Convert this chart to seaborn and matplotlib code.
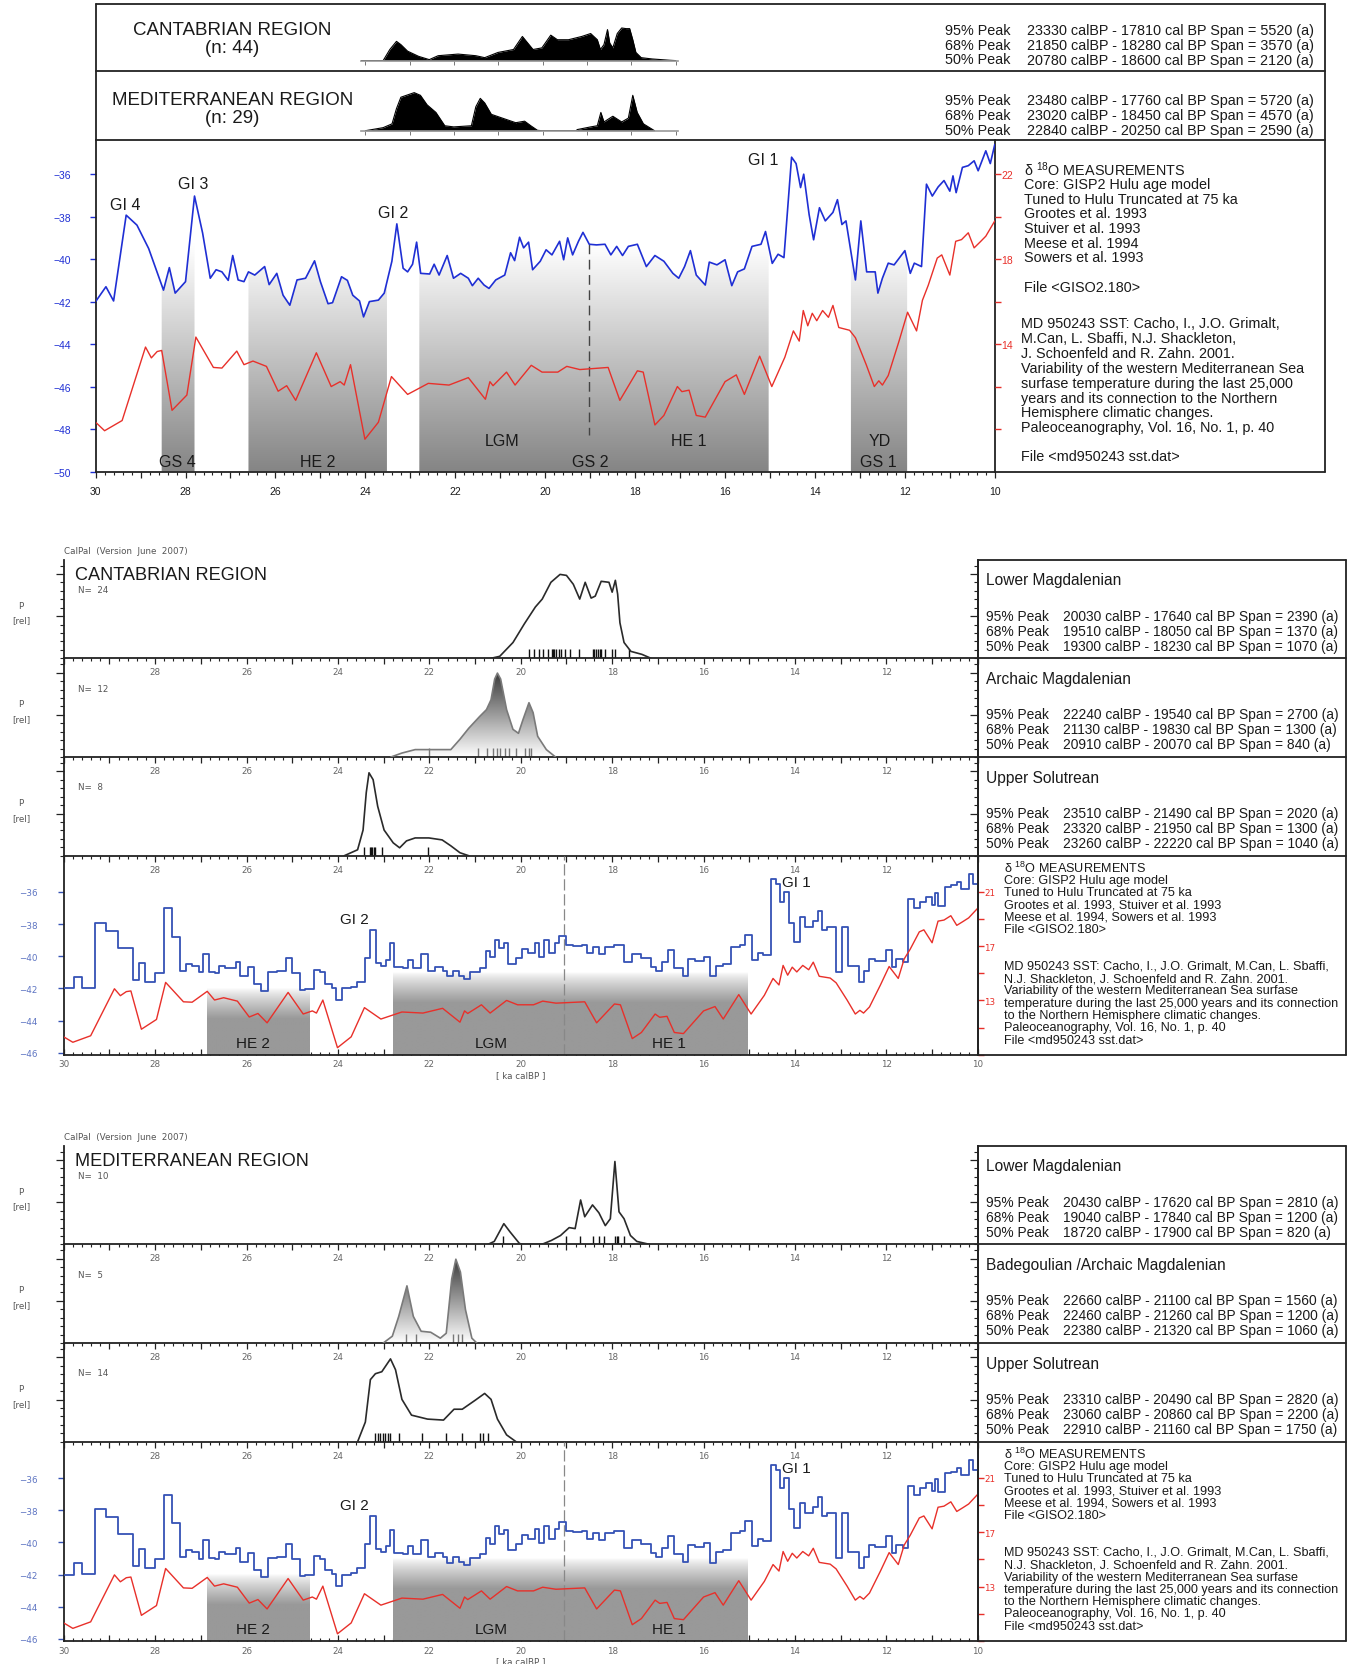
import numpy as np
import matplotlib
matplotlib.use("Agg")
import matplotlib.pyplot as plt
from matplotlib.lines import Line2D
from matplotlib.ticker import MultipleLocator, FixedLocator, FuncFormatter, NullFormatter
import seaborn as sns

sns.set_theme(style="white")
plt.rcParams["font.family"] = ["Liberation Sans", "DejaVu Sans"]
plt.rcParams["mathtext.fontset"] = "custom"
plt.rcParams["mathtext.rm"] = "Liberation Sans"

# ---------------- data ----------------
# GISP2 d18O, age in ka calBP
iso_age = [30.0, 29.77, 29.6, 29.32, 29.08, 28.82, 28.49, 28.36, 28.23, 28.0, 27.8, 27.62, 27.45, 27.32,
           27.19, 27.05, 26.95, 26.83, 26.7, 26.6, 26.46, 26.24, 26.14, 25.97, 25.83, 25.68, 25.52, 25.33,
           25.13, 25.0, 24.83, 24.73, 24.53, 24.4, 24.28, 24.13, 24.04, 23.91, 23.71, 23.58, 23.41, 23.3,
           23.16, 23.06, 22.95, 22.86, 22.77, 22.57, 22.47, 22.36, 22.18, 22.04, 21.88, 21.71, 21.62, 21.49,
           21.36, 21.25, 21.1, 20.9, 20.77, 20.68, 20.57, 20.48, 20.37, 20.28, 20.11, 19.98, 19.85, 19.68,
           19.59, 19.5, 19.39, 19.26, 19.16, 19.02, 18.86, 18.67, 18.54, 18.41, 18.28, 18.15, 17.95, 17.75,
           17.56, 17.36, 17.16, 17.03, 16.9, 16.77, 16.64, 16.44, 16.35, 16.18, 16.0, 15.85, 15.72, 15.57,
           15.4, 15.2, 15.1, 14.95, 14.82, 14.69, 14.52, 14.42, 14.32, 14.25, 14.13, 14.03, 13.9, 13.77,
           13.6, 13.5, 13.4, 13.31, 13.1, 12.98, 12.85, 12.66, 12.6, 12.5, 12.37, 12.24, 12.0, 11.88,
           11.79, 11.63, 11.52, 11.39, 11.26, 11.13, 11.0, 10.93, 10.86, 10.72, 10.59, 10.46, 10.37, 10.2,
           10.1, 10.0]
iso_d18o = [-42.0, -41.3, -41.97, -37.93, -38.4, -39.5, -41.46, -40.4, -41.6, -41.06, -37.03, -38.77, -40.9,
            -40.5, -40.6, -41.0, -39.83, -40.98, -41.06, -40.6, -40.75, -40.35, -41.2, -40.67, -41.7, -42.17,
            -40.98, -40.9, -40.08, -41.06, -42.1, -42.05, -40.83, -41.0, -41.7, -41.97, -42.72, -42.0, -41.93,
            -41.6, -40.1, -38.34, -40.43, -40.6, -40.24, -39.2, -40.67, -40.7, -40.24, -40.75, -39.83, -40.9,
            -40.67, -40.9, -41.25, -40.9, -41.22, -41.38, -40.98, -40.75, -39.7, -40.07, -38.97, -39.47,
            -39.2, -40.5, -40.1, -39.56, -39.8, -39.16, -40.03, -39.0, -39.8, -39.16, -38.74, -39.3, -39.33,
            -39.3, -39.8, -39.4, -39.83, -39.4, -39.3, -40.35, -39.83, -40.1, -40.67, -40.9, -40.35, -39.6,
            -40.75, -41.22, -40.14, -40.27, -40.03, -41.25, -40.6, -40.46, -39.4, -39.3, -38.7, -40.2,
            -39.77, -39.93, -35.2, -35.5, -36.63, -36.0, -37.9, -39.09, -37.58, -38.2, -37.8, -37.2,
            -38.37, -38.2, -40.98, -38.2, -40.6, -40.6, -41.6, -40.9, -40.19, -40.27, -39.6, -40.67,
            -40.19, -40.35, -36.47, -37.03, -36.6, -36.3, -36.8, -36.08, -36.87, -35.68, -35.6, -35.37,
            -35.84, -34.9, -35.5, -34.6]

# MD950243 SST (deg C)
sst_age = [30.0, 29.8, 29.41, 28.89, 28.76, 28.63, 28.53, 28.3, 27.97, 27.77, 27.38, 27.19, 26.86, 26.7,
           26.5, 26.2, 25.94, 25.75, 25.55, 25.09, 24.76, 24.56, 24.47, 24.33, 24.01, 23.71, 23.42, 23.06,
           22.6, 22.14, 21.71, 21.33, 21.23, 21.16, 20.86, 20.67, 20.31, 20.07, 19.72, 19.52, 19.23, 18.6,
           18.34, 17.95, 17.82, 17.56, 17.36, 17.06, 16.96, 16.8, 16.64, 16.44, 16.0, 15.75, 15.57, 15.23,
           14.96, 14.67, 14.48, 14.35, 14.26, 14.16, 14.06, 13.96, 13.83, 13.7, 13.6, 13.47, 13.23, 13.1,
           12.86, 12.68, 12.58, 12.5, 12.37, 12.13, 11.94, 11.74, 11.61, 11.48, 11.28, 11.18, 11.0, 10.87,
           10.74, 10.59, 10.46, 10.33, 10.2, 10.0]
sst_val = [10.32, 9.92, 10.4, 13.86, 13.35, 13.65, 13.7, 10.88, 11.6, 14.33, 12.9, 12.87, 13.67, 13.03,
           13.2, 12.95, 11.78, 12.04, 11.35, 13.59, 12.0, 12.23, 12.07, 13.03, 9.52, 10.32, 12.47, 11.63,
           12.15, 12.07, 12.42, 11.4, 12.23, 12.04, 12.68, 12.07, 13.0, 12.68, 12.68, 12.95, 12.8, 12.9,
           11.35, 12.74, 12.68, 10.19, 10.64, 12.0, 11.76, 11.83, 10.64, 10.56, 12.23, 12.55, 11.63, 13.43,
           12.0, 13.38, 14.62, 14.14, 15.58, 14.86, 15.45, 15.1, 15.58, 15.26, 15.82, 14.78, 14.65, 14.3,
           13.03, 12.0, 12.27, 12.07, 12.52, 14.14, 15.5, 14.62, 16.06, 16.77, 18.05, 18.2, 17.25, 18.84,
           18.92, 19.24, 18.53, 18.8, 19.08, 19.8]

# summed probability silhouettes (top block), x in tick units, relative height
cant_sum_x = [-0.1, 0.4, 0.55, 0.7, 0.8, 0.95, 1.2, 1.44, 1.64, 2.09, 2.49, 2.69, 2.99, 3.34, 3.44, 3.54,
              3.63, 3.78, 3.98, 4.18, 4.33, 4.58, 4.88, 5.08, 5.23, 5.3, 5.38, 5.46, 5.51, 5.58, 5.68, 5.78,
              5.88, 5.96, 6.03, 6.1, 6.22, 6.47, 6.87, 7.0]
cant_sum_h = [0, 0.0, 0.34, 0.59, 0.49, 0.29, 0.13, 0.03, 0.15, 0.2, 0.15, 0.09, 0.25, 0.34, 0.54, 0.74,
              0.59, 0.34, 0.39, 0.78, 0.64, 0.64, 0.74, 0.83, 0.64, 0.34, 0.49, 0.95, 0.54, 0.39, 0.83, 1.0,
              0.98, 0.98, 0.64, 0.25, 0.09, 0.05, 0.01, 0.0]
med_sum_x = [0.0, 0.4, 0.6, 0.7, 0.8, 1.1, 1.24, 1.39, 1.59, 1.79, 1.99, 2.39, 2.49, 2.59, 2.69, 2.84,
             3.09, 3.39, 3.59, 3.73, 3.88, 3.98, 4.75, 4.78, 5.08, 5.23, 5.31, 5.38, 5.58, 5.78, 5.93, 6.03,
             6.13, 6.27, 6.52]
med_sum_h = [0, 0.08, 0.18, 0.58, 0.88, 1.0, 0.93, 0.68, 0.48, 0.13, 0.1, 0.13, 0.63, 0.85, 0.73, 0.43,
             0.33, 0.21, 0.25, 0.13, 0.01, 0.0, 0.0, 0.03, 0.1, 0.13, 0.48, 0.23, 0.38, 0.23, 0.33, 0.93,
             0.48, 0.18, 0.0]

# CalPal probability curves (ka calBP, relative P) and dated samples
cant_lm_age = [20.65, 20.46, 20.17, 19.92, 19.68, 19.53, 19.34, 19.14, 19.0, 18.85, 18.71, 18.59, 18.46,
               18.37, 18.24, 18.07, 18.0, 17.93, 17.88, 17.83, 17.74, 17.59, 17.35, 17.15]
cant_lm_p = [0, 0.02, 0.16, 0.35, 0.52, 0.6, 0.77, 0.85, 0.84, 0.75, 0.6, 0.77, 0.61, 0.63, 0.78, 0.77,
             0.67, 0.79, 0.65, 0.36, 0.16, 0.07, 0.04, 0]
cant_lm_dates = [19.82, 19.71, 19.61, 19.51, 19.41, 19.31, 19.29, 19.27, 19.22, 19.17, 19.11, 19.03, 18.92,
                 18.73, 18.43, 18.39, 18.35, 18.3, 18.27, 18.25, 18.15, 18.01, 17.93, 17.64]
cant_am_age = [22.84, 22.6, 22.31, 22.01, 21.53, 21.33, 21.14, 20.9, 20.75, 20.65, 20.57, 20.51, 20.44,
               20.31, 20.17, 20.05, 19.95, 19.82, 19.73, 19.63, 19.44, 19.24]
cant_am_p = [0, 0.04, 0.075, 0.075, 0.075, 0.18, 0.29, 0.41, 0.48, 0.58, 0.79, 0.85, 0.79, 0.48, 0.28,
             0.24, 0.38, 0.55, 0.45, 0.21, 0.075, 0]
cant_am_dates = [22.0, 20.94, 20.73, 20.53, 20.34, 20.26, 19.82, 19.78, 20.6, 20.45, 20.1, 19.9]
cant_us_age = [23.86, 23.57, 23.45, 23.38, 23.32, 23.23, 23.13, 22.99, 22.79, 22.65, 22.5, 22.31, 22.01,
               21.72, 21.53, 21.33, 21.14]
cant_us_p = [0, 0.06, 0.26, 0.64, 0.84, 0.77, 0.5, 0.26, 0.13, 0.08, 0.15, 0.18, 0.18, 0.16, 0.1, 0.03, 0]
cant_us_dates = [23.42, 23.3, 23.27, 23.25, 23.22, 23.18, 23.04, 22.04]

med_lm_age = [20.72, 20.58, 20.37, 20.24, 20.03, 19.96, 19.54, 19.33, 19.13, 18.94, 18.81, 18.69, 18.6,
              18.43, 18.29, 18.15, 18.04, 17.94, 17.85, 17.74, 17.6, 17.46, 17.18]
med_lm_p = [0, 0.03, 0.21, 0.13, 0.01, 0, 0, 0.04, 0.09, 0.17, 0.16, 0.45, 0.28, 0.4, 0.32, 0.19, 0.26,
            0.84, 0.33, 0.26, 0.09, 0.03, 0]
med_lm_dates = [20.38, 19.01, 18.71, 18.43, 18.29, 18.18, 17.94, 17.9, 17.88, 17.74]
med_ba_age = [23.01, 22.81, 22.67, 22.49, 22.35, 22.18, 21.97, 21.76, 21.63, 21.51, 21.42, 21.32, 21.21,
              21.07, 20.96]
med_ba_p = [0, 0.07, 0.27, 0.58, 0.27, 0.12, 0.11, 0.05, 0.1, 0.65, 0.85, 0.72, 0.34, 0.05, 0]
med_ba_dates = [22.51, 22.29, 21.49, 21.38, 21.28]
med_us_age = [23.57, 23.4, 23.29, 23.18, 23.04, 22.85, 22.74, 22.6, 22.39, 22.04, 21.69, 21.46, 21.28,
              21.0, 20.79, 20.65, 20.51, 20.31, 20.1]
med_us_p = [0, 0.2, 0.63, 0.69, 0.71, 0.84, 0.73, 0.43, 0.27, 0.23, 0.22, 0.33, 0.33, 0.42, 0.49, 0.43,
            0.23, 0.07, 0]
med_us_dates = [23.18, 23.13, 23.08, 23.01, 22.96, 22.9, 22.85, 22.67, 22.15, 21.63, 21.28, 20.9, 20.83,
                20.72]

peak_levels = ["95% Peak", "68% Peak", "50% Peak"]
cant_sum_peaks = ["23330 calBP - 17810 cal BP Span = 5520 (a)", "21850 calBP - 18280 cal BP Span = 3570 (a)",
                  "20780 calBP - 18600 cal BP Span = 2120 (a)"]
med_sum_peaks = ["23480 calBP - 17760 cal BP Span = 5720 (a)", "23020 calBP - 18450 cal BP Span = 4570 (a)",
                 "22840 calBP - 20250 cal BP Span = 2590 (a)"]
cant_lm_peaks = ["20030 calBP - 17640 cal BP Span = 2390 (a)", "19510 calBP - 18050 cal BP Span = 1370 (a)",
                 "19300 calBP - 18230 cal BP Span = 1070 (a)"]
cant_am_peaks = ["22240 calBP - 19540 cal BP Span = 2700 (a)", "21130 calBP - 19830 cal BP Span = 1300 (a)",
                 "20910 calBP - 20070 cal BP Span = 840 (a)"]
cant_us_peaks = ["23510 calBP - 21490 cal BP Span = 2020 (a)", "23320 calBP - 21950 cal BP Span = 1300 (a)",
                 "23260 calBP - 22220 cal BP Span = 1040 (a)"]
med_lm_peaks = ["20430 calBP - 17620 cal BP Span = 2810 (a)", "19040 calBP - 17840 cal BP Span = 1200 (a)",
                "18720 calBP - 17900 cal BP Span = 820 (a)"]
med_ba_peaks = ["22660 calBP - 21100 cal BP Span = 1560 (a)", "22460 calBP - 21260 cal BP Span = 1200 (a)",
                "22380 calBP - 21320 cal BP Span = 1060 (a)"]
med_us_peaks = ["23310 calBP - 20490 cal BP Span = 2820 (a)", "23060 calBP - 20860 cal BP Span = 2200 (a)",
                "22910 calBP - 21160 cal BP Span = 1750 (a)"]

# climatic phases (ka)
top_phases = [(28.53, 27.8), (26.6, 23.52), (22.8, 15.03), (13.2, 11.95)]
mid_phases = [(26.86, 24.62, -42.0), (22.8, 15.04, -41.0)]

iso_text_top = ["δ $\\mathregular{^{18}}$O MEASUREMENTS", "Core: GISP2 Hulu age model",
                "Tuned to Hulu Truncated at 75 ka", "Grootes et al. 1993", "Stuiver et al. 1993",
                "Meese et al. 1994", "Sowers et al. 1993", "File <GISO2.180>"]
sst_text_top = ["MD 950243 SST: Cacho, I., J.O. Grimalt,", "M.Can, L. Sbaffi, N.J. Shackleton,",
                "J. Schoenfeld and R. Zahn. 2001.", "Variability of the western Mediterranean Sea",
                "surfase temperature during the last 25,000", "years and its connection to the Northern",
                "Hemisphere climatic changes.", "Paleoceanography, Vol. 16, No. 1, p. 40",
                "File <md950243 sst.dat>"]
iso_text_mid = ["δ $\\mathregular{^{18}}$O MEASUREMENTS", "Core: GISP2 Hulu age model",
                "Tuned to Hulu Truncated at 75 ka", "Grootes et al. 1993, Stuiver et al. 1993",
                "Meese et al. 1994, Sowers et al. 1993", "File <GISO2.180>", "", "",
                "MD 950243 SST: Cacho, I., J.O. Grimalt, M.Can, L. Sbaffi,",
                "N.J. Shackleton, J. Schoenfeld and R. Zahn. 2001.",
                "Variability of the western Mediterranean Sea surfase",
                "temperature during the last 25,000 years and its connection",
                "to the Northern Hemisphere climatic changes.",
                "Paleoceanography, Vol. 16, No. 1, p. 40", "File <md950243 sst.dat>"]

BLUE_TOP = "#1f2fd4"
BLUE_MID = "#3552b5"
RED = "#e8302a"
INK = "#1a1a1a"
SMALL = dict(family="DejaVu Sans", fontsize=6.3, color="#555555")

W, H = 1359, 1665
fig = plt.figure(figsize=(W / 100, H / 100), dpi=100)
fig.patch.set_facecolor("white")


def add_ax(x0, y0, x1, y1):
    ax = fig.add_axes([x0 / W, 1 - y1 / H, (x1 - x0) / W, (y1 - y0) / H])
    ax.set_facecolor("none")
    return ax


def line(x0, y0, x1, y1, lw=1.3, color="#222222"):
    fig.add_artist(Line2D([x0 / W, x1 / W], [1 - y0 / H, 1 - y1 / H], color=color, lw=lw))


def ftext(x, y, s, **kw):
    kw.setdefault("va", "center")
    kw.setdefault("color", INK)
    fig.text(x / W, 1 - y / H, s, **kw)


def even_label(v, pos, lo=10, hi=30):
    r = int(round(v))
    if abs(v - r) < 1e-6 and r % 2 == 0 and lo <= r <= hi:
        return str(r)
    return ""


def ka_xaxis(ax, direction, lo, hi, size, color, pad, major_len=4.5):
    ax.set_xlim(30, 10)
    ax.xaxis.set_major_locator(MultipleLocator(1))
    ax.xaxis.set_minor_locator(MultipleLocator(0.2))
    ax.xaxis.set_major_formatter(FuncFormatter(lambda v, p: even_label(v, p, lo, hi)))
    ax.tick_params(axis="x", which="major", bottom=True, direction=direction, length=major_len, width=0.9,
                   color="#222222", labelsize=size, labelcolor=color, pad=pad)
    ax.tick_params(axis="x", which="minor", bottom=True, direction=direction, length=major_len * 0.5,
                   width=0.8, color="#222222")


def gradient_image(ax, extent, top_col, bot_col, t_of_y, y_lo, y_hi, zorder=1):
    ys = np.linspace(y_hi, y_lo, 300)
    t = t_of_y(ys)[:, None, None]
    a = np.array(top_col)[None, None, :]
    b = np.array(bot_col)[None, None, :]
    img = a * (1 - t) + b * t
    return ax.imshow(img, extent=extent, origin="upper", aspect="auto", zorder=zorder, interpolation="bilinear")


# ======================= TOP BLOCK =======================
TX0, TX1, TXR = 95.6, 994.8, 1325.0
line(TX0, 5.3, TXR, 5.3)
line(TXR, 5.3, TXR, 472.5)
line(TX0, 72.2, TXR, 72.2)
line(TX0, 141.2, TXR, 141.2)
line(TX0, 5.3, TX0, 141.2)
line(TX1, 472.5, TXR, 472.5)

for (name, n, sx, sh, y0, y1, peaks, ty) in [
        ("CANTABRIAN REGION", "(n: 44)", cant_sum_x, cant_sum_h, 28.0, 61.6, cant_sum_peaks, 30.8),
        ("MEDITERRANEAN REGION", "(n: 29)", med_sum_x, med_sum_h, 92.5, 131.7, med_sum_peaks, 100.9)]:
    ftext(232.5, ty, name, ha="center", fontsize=13.5)
    ftext(232.5, ty + 18, n, ha="center", fontsize=13.5)
    sax = add_ax(361, y0, 678, y1)
    sax.fill_between(sx, sh, 0, color="black", lw=0)
    sns.lineplot(x=sx, y=sh, ax=sax, color="black", lw=0.8, sort=False, estimator=None)
    sax.set_xlim(-0.1, 7.05)
    sax.set_ylim(0, 1.03)
    for s in ["top", "right", "left"]:
        sax.spines[s].set_visible(False)
    sax.spines["bottom"].set_color("#999999")
    sax.spines["bottom"].set_linewidth(1.2)
    sax.set_xticks(range(8))
    sax.set_yticks([])
    sax.tick_params(axis="x", bottom=True, direction="out", length=3, width=0.7, color="#777777",
                    labelbottom=False)
    for i in range(3):
        ftext(945, ty + i * 14.85, peak_levels[i], fontsize=10.4)
        ftext(1027, ty + i * 14.85, peaks[i], fontsize=10.4)

# main climate panel
ax = add_ax(TX0, 141.2, TX1, 472.5)
ax.set_xlim(30, 10)
ax.set_ylim(-50, -34.4)
asc_age = np.array(iso_age[::-1])
asc_val = np.array(iso_d18o[::-1])
for a, b in top_phases:
    xs = np.linspace(b, a, 300)
    ys = np.interp(xs, asc_age, asc_val)
    poly = ax.fill_between(xs, ys, -50, facecolor="none", edgecolor="none")
    im = gradient_image(ax, [30, 10, -50, -34.4], (1, 1, 1), (0.52, 0.52, 0.52),
                        lambda y: np.clip((-39.3 - y) / 10.7, 0, 1), -50, -34.4)
    im.set_clip_path(poly.get_paths()[0], transform=ax.transData)
sns.lineplot(x=iso_age, y=iso_d18o, ax=ax, color=BLUE_TOP, lw=1.2, sort=False, estimator=None, zorder=3)
ax.plot([19.02, 19.02], [-39.3, -48.3], color="#444444", lw=1.0, dashes=(7, 4), zorder=2)
ax.set_xlim(30, 10)
ax.set_ylim(-50, -34.4)
ka_xaxis(ax, "out", 10, 30, 7.5, INK, 6)
ax.set_yticks(np.arange(-50, -35, 2))
ax.tick_params(axis="y", left=True, direction="out", length=4, width=1, color=BLUE_TOP, labelsize=7.5,
               labelcolor=BLUE_TOP, pad=26)
for lab in ax.get_yticklabels():
    lab.set_horizontalalignment("left")
ax.set_xlabel("")
ax.set_ylabel("")
for s in ax.spines.values():
    s.set_color("#222222")
    s.set_linewidth(1.3)
ax.spines["top"].set_visible(False)

ax2 = ax.twinx()
sns.lineplot(x=sst_age, y=sst_val, ax=ax2, color=RED, lw=1.0, sort=False, estimator=None)
ax2.set_xlim(30, 10)
ax2.set_ylim(8, 23.6)
ax2.set_yticks(np.arange(10, 23, 2))
ax2.yaxis.set_major_formatter(FuncFormatter(lambda v, p: str(int(v)) if int(round(v)) in (22, 18, 14) else ""))
ax2.tick_params(axis="y", right=True, direction="out", length=4, width=1, color=RED, labelsize=7.5,
                labelcolor=RED, pad=0.5)
ax2.set_ylabel("")
for s in ax2.spines.values():
    s.set_visible(False)

for s, x, y in [("GI 4", 29.33, -37.45), ("GI 3", 27.84, -36.45), ("GI 2", 23.38, -37.8), ("GI 1", 15.15, -35.3),
                ("LGM", 20.96, -48.55), ("HE 1", 16.81, -48.55), ("YD", 12.55, -48.55),
                ("GS 4", 28.19, -49.55), ("HE 2", 25.05, -49.55), ("GS 2", 19.0, -49.55), ("GS 1", 12.58, -49.55)]:
    ax.text(x, y, s, ha="center", va="center", fontsize=11.5, color=INK, zorder=5)

for i, s in enumerate(iso_text_top):
    ftext(1024, [170, 185, 200, 214.3, 229.3, 244, 258.3, 287.7][i], s, fontsize=10.4)
for i, s in enumerate(sst_text_top):
    ftext(1021.5, [324.3, 339.3, 354, 369.3, 384, 398.7, 413.3, 428, 456.7][i], s, fontsize=10.4)


# ======================= CALPAL BLOCKS =======================
MX0, MX1, MXR = 63.7, 977.8, 1346.0
PH = 98.7


def dist_panel(top, age, p, dates, n, title, peaks, gradient=False, region=None):
    ax = add_ax(MX0, top, MX1, top + PH)
    if gradient:
        poly = ax.fill_between(age, p, 0, facecolor="none", edgecolor="none")
        im = gradient_image(ax, [30, 10, 0, 1], (0.2, 0.2, 0.2), (1, 1, 1),
                            lambda y: np.clip((0.88 - y) / 0.88, 0, 1), 0, 1)
        im.set_clip_path(poly.get_paths()[0], transform=ax.transData)
        lc, rc = "#7a7a7a", "#777777"
    else:
        lc, rc = "#2a2a2a", "#111111"
    sns.lineplot(x=age, y=p, ax=ax, color=lc, lw=1.2, sort=False, estimator=None, zorder=3)
    sns.rugplot(x=dates, ax=ax, height=0.09, color=rc, lw=1.0)
    ka_xaxis(ax, "out", 12, 28, 6.3, "#666666", 2.5, major_len=4)
    for lab in ax.get_xticklabels():
        lab.set_family("DejaVu Sans")
    ax.set_ylim(0, 1)
    yt = np.arange(0, 12) / 11.7
    ax.yaxis.set_major_locator(FixedLocator([5 / 11.7, 10 / 11.7]))
    ax.yaxis.set_minor_locator(FixedLocator(yt))
    ax.yaxis.set_major_formatter(NullFormatter())
    ax.tick_params(axis="y", which="major", left=True, direction="out", length=6, width=0.9, color="#222222")
    ax.tick_params(axis="y", which="minor", left=True, direction="out", length=3, width=0.8, color="#222222")
    sec = ax.secondary_yaxis("right")
    sec.set_yticks([5 / 11.7, 10 / 11.7])
    sec.set_yticks(yt, minor=True)
    sec.set_yticklabels([])
    sec.tick_params(axis="y", which="major", direction="in", length=6, width=0.9, color="#222222")
    sec.tick_params(axis="y", which="minor", direction="in", length=3, width=0.8, color="#222222")
    sec.spines["right"].set_visible(False)
    ax.set_xlabel("")
    ax.set_ylabel("")
    for s in ax.spines.values():
        s.set_color("#222222")
        s.set_linewidth(1.3)
    ax.spines["top"].set_visible(False)
    ax.set_xlim(30, 10)
    if region:
        ftext(75, top + 15, region, fontsize=13.1)
    ftext(77.5, top + 29.7, f"N=  {n}", **SMALL)
    ftext(21.2, top + 45.6, "P", ha="center", **SMALL)
    ftext(21.2, top + 60.4, "[rel]", ha="center", **SMALL)
    ftext(986, top + 20, title, fontsize=11.2)
    for i in range(3):
        ftext(986, top + 56 + i * 15, peak_levels[i], fontsize=9.9)
        ftext(1063, top + 56 + i * 15, peaks[i], fontsize=9.9)
    line(MX1, top, MXR, top)


def iso_panel(top):
    bot = top + 199.6
    ax = add_ax(MX0, top, MX1, bot)
    for a, b, yt in mid_phases:
        gradient_image(ax, [a, b, -46.15, yt], (1, 1, 1), (0.6, 0.6, 0.6),
                       lambda y, yt=yt: np.clip((yt - y) / 1.9, 0, 1) ** 0.8, -46.15, yt)
    sns.lineplot(x=iso_age, y=iso_d18o, ax=ax, color=BLUE_MID, lw=1.3, sort=False, estimator=None,
                 drawstyle="steps-post", zorder=3)
    ax.axvline(19.05, color="#888888", lw=0.9, dashes=(9, 3), zorder=2)
    ax.set_xlim(30, 10)
    ax.set_ylim(-46.15, -33.75)
    ka_xaxis(ax, "in", 10, 30, 6.3, "#666666", 3, major_len=4)
    for lab in ax.get_xticklabels():
        lab.set_family("DejaVu Sans")
    ax.set_yticks(np.arange(-46, -35, 2))
    ax.tick_params(axis="y", left=True, direction="out", length=4, width=1, color=BLUE_MID, labelsize=6.3,
                   labelcolor="#5d74c2", pad=28)
    for lab in ax.get_yticklabels():
        lab.set_horizontalalignment("left")
        lab.set_family("DejaVu Sans")
    ax.set_xlabel("[ ka calBP ]", fontsize=6.3, color="#555555", family="DejaVu Sans", labelpad=1)
    ax.set_ylabel("")
    for s in ax.spines.values():
        s.set_color("#222222")
        s.set_linewidth(1.3)
    ax.spines["top"].set_visible(False)
    ax2 = ax.twinx()
    sns.lineplot(x=sst_age, y=sst_val, ax=ax2, color=RED, lw=1.0, sort=False, estimator=None)
    ax2.set_xlim(30, 10)
    ax2.set_ylim(8.96, 23.66)
    ax2.set_yticks([9, 11, 13, 15, 17, 19, 21])
    ax2.yaxis.set_major_formatter(FuncFormatter(lambda v, p: str(int(v)) if int(round(v)) in (21, 17, 13) else ""))
    ax2.tick_params(axis="y", right=True, direction="out", length=4, width=1, color=RED, labelsize=6.3,
                    labelcolor=RED, pad=0.5)
    for lab in ax2.get_yticklabels():
        lab.set_family("DejaVu Sans")
    ax2.set_ylabel("")
    for s in ax2.spines.values():
        s.set_visible(False)
    for s, x, y in [("GI 2", 23.64, -37.67), ("GI 1", 13.97, -35.4), ("HE 2", 25.87, -45.4),
                    ("LGM", 20.65, -45.4), ("HE 1", 16.75, -45.4)]:
        ax.text(x, y, s, ha="center", va="center", fontsize=11, color=INK, zorder=5)
    for i, s in enumerate(iso_text_mid):
        if s:
            ftext(1004, top + 11.7 + i * 12.3, s, fontsize=9.1)
    line(MX1, top, MXR, top)
    line(MX1, bot, MXR, bot)
    line(MXR, top - 3 * PH, MXR, bot)
    line(MX1, top - 3 * PH, MX1, bot)


def calpal_block(top, region, panels):
    ftext(MX0, top - 9.6, "CalPal  (Version  June  2007)", **SMALL)
    for i, (age, p, dates, n, title, peaks, grad) in enumerate(panels):
        dist_panel(top + i * PH, age, p, dates, n, title, peaks, gradient=grad,
                   region=region if i == 0 else None)
    iso_panel(top + 3 * PH)


calpal_block(560.6, "CANTABRIAN REGION", [
    (cant_lm_age, cant_lm_p, cant_lm_dates, 24, "Lower Magdalenian", cant_lm_peaks, False),
    (cant_am_age, cant_am_p, cant_am_dates, 12, "Archaic Magdalenian", cant_am_peaks, True),
    (cant_us_age, cant_us_p, cant_us_dates, 8, "Upper Solutrean", cant_us_peaks, False)])

calpal_block(1146.7, "MEDITERRANEAN REGION", [
    (med_lm_age, med_lm_p, med_lm_dates, 10, "Lower Magdalenian", med_lm_peaks, False),
    (med_ba_age, med_ba_p, med_ba_dates, 5, "Badegoulian /Archaic Magdalenian", med_ba_peaks, True),
    (med_us_age, med_us_p, med_us_dates, 14, "Upper Solutrean", med_us_peaks, False)])

fig.savefig("out.png", dpi=100, facecolor="white")
